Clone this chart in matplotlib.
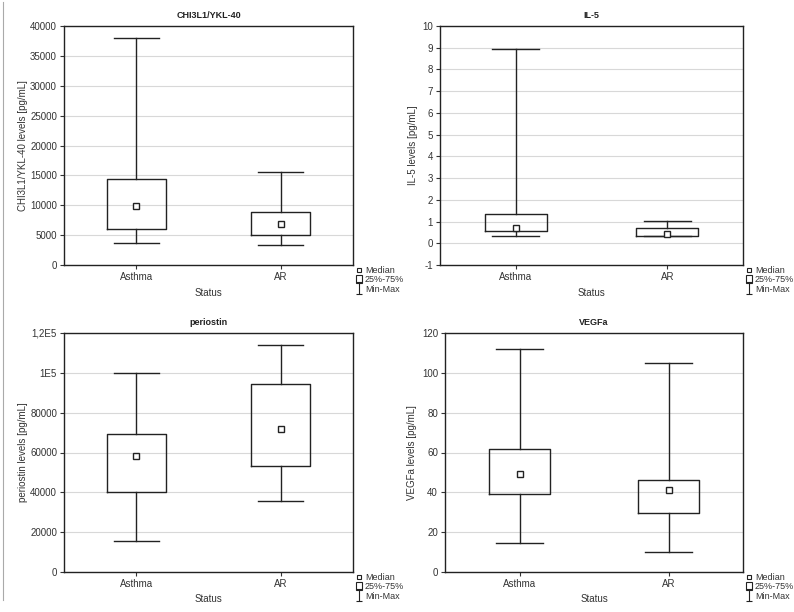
import matplotlib
matplotlib.use("Agg")
import matplotlib.pyplot as plt
from matplotlib.lines import Line2D
from matplotlib.patches import Patch
from matplotlib.path import Path

plt.rcParams['font.family'] = ['Liberation Sans', 'DejaVu Sans']
plt.rcParams['font.size'] = 7

categories = ["Asthma", "AR"]

titles = ["CHI3L1/YKL-40", "IL-5", "periostin", "VEGFa"]
ylabels = ["CHI3L1/YKL-40 levels [pg/mL]", "IL-5 levels [pg/mL]",
           "periostin levels [pg/mL]", "VEGFa levels [pg/mL]"]

# [Asthma, AR]
chi_min = [3700, 3400]
chi_q1 = [6100, 5000]
chi_med = [9800, 6900]
chi_q3 = [14400, 8800]
chi_max = [38000, 15600]

il5_min = [0.33, 0.33]
il5_q1 = [0.55, 0.33]
il5_med = [0.72, 0.43]
il5_q3 = [1.33, 0.72]
il5_max = [8.95, 1.03]

per_min = [15500, 35700]
per_q1 = [40300, 53000]
per_med = [58000, 72000]
per_q3 = [69500, 94500]
per_max = [99700, 114000]

veg_min = [14.5, 10]
veg_q1 = [39, 29.5]
veg_med = [49, 41]
veg_q3 = [62, 46]
veg_max = [112, 105]

chi_ticks = [0, 5000, 10000, 15000, 20000, 25000, 30000, 35000, 40000]
chi_ticklabels = [str(t) for t in chi_ticks]
il5_ticks = [-1, 0, 1, 2, 3, 4, 5, 6, 7, 8, 9, 10]
il5_ticklabels = [str(t) for t in il5_ticks]
per_ticks = [0, 20000, 40000, 60000, 80000, 100000, 120000]
per_ticklabels = ["0", "20000", "40000", "60000", "80000", "1E5", "1,2E5"]
veg_ticks = [0, 20, 40, 60, 80, 100, 120]
veg_ticklabels = [str(t) for t in veg_ticks]

panels = [
    (chi_min, chi_q1, chi_med, chi_q3, chi_max, chi_ticks, chi_ticklabels),
    (il5_min, il5_q1, il5_med, il5_q3, il5_max, il5_ticks, il5_ticklabels),
    (per_min, per_q1, per_med, per_q3, per_max, per_ticks, per_ticklabels),
    (veg_min, veg_q1, veg_med, veg_q3, veg_max, veg_ticks, veg_ticklabels),
]

W, H = 794, 612
fig = plt.figure(figsize=(W / 100, H / 100), dpi=100)

# axes rectangles in pixels: left, top, right, bottom
rects = [(64, 26, 353, 265), (440, 26, 743, 265),
         (64, 333, 353, 572), (445, 333, 743, 572)]
ylabel_x = [28, 418, 28, 417]

# I-beam marker for Min-Max
ibeam = Path([(-0.6, 1), (0.6, 1), (0, 1), (0, -1), (-0.6, -1), (0.6, -1)],
             [Path.MOVETO, Path.LINETO, Path.MOVETO, Path.LINETO, Path.MOVETO, Path.LINETO])

txtc = '#333333'

for i, (mn, q1, med, q3, mx, ticks, tlabels) in enumerate(panels):
    l, t, r, b = rects[i]
    ax = fig.add_axes([l / W, 1 - b / H, (r - l) / W, (b - t) / H])
    stats = []
    for j, c in enumerate(categories):
        stats.append(dict(label=c, whislo=mn[j], q1=q1[j], med=med[j],
                          q3=q3[j], whishi=mx[j], fliers=[]))
    pos = list(range(len(categories)))
    ax.bxp(stats, positions=pos, widths=0.41, showfliers=False,
           boxprops=dict(color='#222222', linewidth=1.0),
           whiskerprops=dict(color='#222222', linewidth=1.0),
           capprops=dict(color='#222222', linewidth=1.0),
           medianprops=dict(linestyle='none'),
           capwidths=0.31, zorder=3)
    ax.plot(pos, med, linestyle='none', marker='s', ms=4, mfc='white',
            mec='#222222', mew=1.0, zorder=4)
    ax.set_xlim(-0.5, 1.5)
    ax.set_ylim(ticks[0], ticks[-1])
    ax.set_yticks(ticks)
    ax.set_yticklabels(tlabels)
    ax.set_xticks(pos)
    ax.set_xticklabels(categories)
    ax.yaxis.grid(True, color='#d8d8d8', linewidth=0.8)
    ax.set_axisbelow(True)
    for s in ax.spines.values():
        s.set_linewidth(1.0)
        s.set_color('#222222')
    ax.tick_params(length=3, width=0.8, colors=txtc, labelsize=7, pad=2)
    ax.set_title(titles[i], fontsize=6.5, fontweight='bold', pad=6, color='#222222')
    ax.set_ylabel(ylabels[i], fontsize=7, color=txtc)
    ax.yaxis.set_label_coords((ylabel_x[i] - l) / (r - l), 0.5)
    ax.set_xlabel("Status", fontsize=7, color=txtc, labelpad=4)

    handles = [
        Line2D([], [], linestyle='none', marker='s', ms=3, mfc='white', mec='#222222', mew=0.8),
        Patch(facecolor='white', edgecolor='#222222', linewidth=0.8),
        Line2D([], [], linestyle='none', marker=ibeam, ms=8, mec='#222222', mew=0.8),
    ]
    ax.legend(handles, ["Median", "25%-75%", "Min-Max"], loc='upper left',
              bbox_to_anchor=(1.01, -0.005), frameon=False, fontsize=6.5,
              handlelength=0.7, handleheight=1.0, handletextpad=0.3, labelspacing=0.0,
              borderpad=0, borderaxespad=0, labelcolor=txtc)

fig.add_artist(Line2D([3 / W, 3 / W], [1 - 2 / H, 1 - 600 / H], color='#aaaaaa', linewidth=0.8))

fig.savefig("out.png", dpi=100, facecolor='white')
